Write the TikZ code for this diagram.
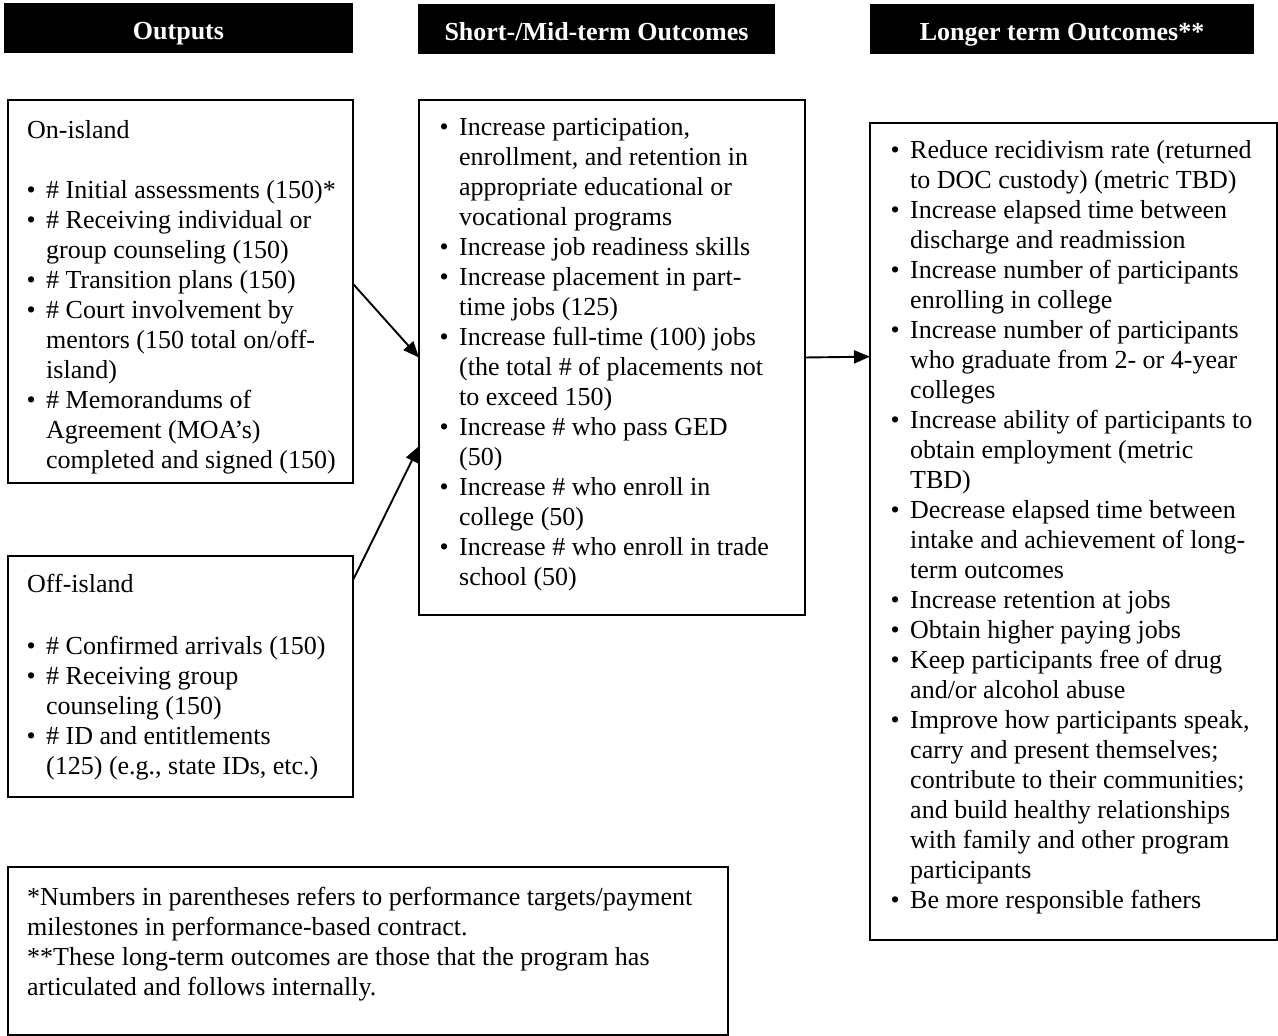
\documentclass[tikz,border=0pt]{standalone}
\usepackage{fontspec}
\setmainfont{Liberation Serif}
\usetikzlibrary{arrows.meta,calc}
\newcommand{\bl}{\llap{\textbullet\hspace{10.5pt}}}
\begin{document}
\begin{tikzpicture}[x=1pt,y=-1pt,
  box/.style={draw, line width=1.6pt, anchor=north west, inner sep=0pt, outer sep=0pt},
  hdr/.style={fill=black, anchor=north west, inner sep=0pt, outer sep=0pt, text=white,
              text height=28pt, text depth=6pt,
              font=\fontsize{26}{30}\selectfont\bfseries},
  txt/.style={anchor=base west, inner sep=0pt, align=left, font=\fontsize{26}{30}\selectfont},
  arr/.style={line width=1.9pt, -{Triangle[length=16pt,width=13pt]}}]
\useasboundingbox (0,0) rectangle (1278,1036);

% headers
\node[hdr, minimum width=349pt, minimum height=50pt] (h1) at (4,3) {Outputs};
\node[hdr, minimum width=357pt, minimum height=50pt] (h2) at (418,4) {Short-/Mid-term Outcomes};
\node[hdr, minimum width=384pt, minimum height=50pt] (h3) at (870,4) {Longer term Outcomes**};

% boxes
\node[box, minimum width=345pt, minimum height=383pt] (on) at (8,100) {};
\node[box, minimum width=345pt, minimum height=241pt] (off) at (8,556) {};
\node[box, minimum width=386pt, minimum height=515pt] (mid) at (419,100) {};
\node[box, minimum width=407pt, minimum height=817pt] (long) at (870,123) {};
\node[box, minimum width=720pt, minimum height=168pt] (foot) at (8,867) {};

% On-island (anchor = baseline of the last line)
\node[txt] (ontitle) at (27,138) {On-island};
\node[txt] (onlist) at (46,468) {\bl\# Initial assessments (150)*\\
\bl\# Receiving individual or\\
group counseling (150)\\
\bl\# Transition plans (150)\\
\bl\# Court involvement by\\
mentors (150 total on/off-\\
island)\\
\bl\# Memorandums of\\
Agreement (MOA’s)\\
completed and signed (150)};

% Off-island
\node[txt] (offtitle) at (27,592) {Off-island};
\node[txt] (offlist) at (46,774) {\bl\# Confirmed arrivals (150)\\
\bl\# Receiving group\\
counseling (150)\\
\bl\# ID and entitlements\\
(125) (e.g., state IDs, etc.)};

% Middle
\node[txt] (midlist) at (459,585) {\bl Increase participation,\\
enrollment, and retention in\\
appropriate educational or\\
vocational programs\\
\bl Increase job readiness skills\\
\bl Increase placement in part-\\
time jobs (125)\\
\bl Increase full-time (100) jobs\\
(the total \# of placements not\\
to exceed 150)\\
\bl Increase \# who pass GED\\
(50)\\
\bl Increase \# who enroll in\\
college (50)\\
\bl Increase \# who enroll in trade\\
school (50)};

% Right
\node[txt] (longlist) at (910,908) {\bl Reduce recidivism rate (returned\\
to DOC custody) (metric TBD)\\
\bl Increase elapsed time between\\
discharge and readmission\\
\bl Increase number of participants\\
enrolling in college\\
\bl Increase number of participants\\
who graduate from 2- or 4-year\\
colleges\\
\bl Increase ability of participants to\\
obtain employment (metric\\
TBD)\\
\bl Decrease elapsed time between\\
intake and achievement of long-\\
term outcomes\\
\bl Increase retention at jobs\\
\bl Obtain higher paying jobs\\
\bl Keep participants free of drug\\
and/or alcohol abuse\\
\bl Improve how participants speak,\\
carry and present themselves;\\
contribute to their communities;\\
and build healthy relationships\\
with family and other program\\
participants\\
\bl Be more responsible fathers};

% Footnote
\node[txt] (foottext) at (27,995) {*Numbers in parentheses refers to performance targets/payment\\
milestones in performance-based contract.\\
**These long-term outcomes are those that the program has\\
articulated and follows internally.};

% arrows
\draw[arr] ($(on.north east)!0.48!(on.south east)$) -- (mid.west);
\draw[arr] ($(off.north east)!0.10!(off.south east)$) -- ($(mid.north west)!0.672!(mid.south west)$);
\draw[arr] (mid.east) -- ($(long.north west)!0.286!(long.south west)$);
\end{tikzpicture}
\end{document}
